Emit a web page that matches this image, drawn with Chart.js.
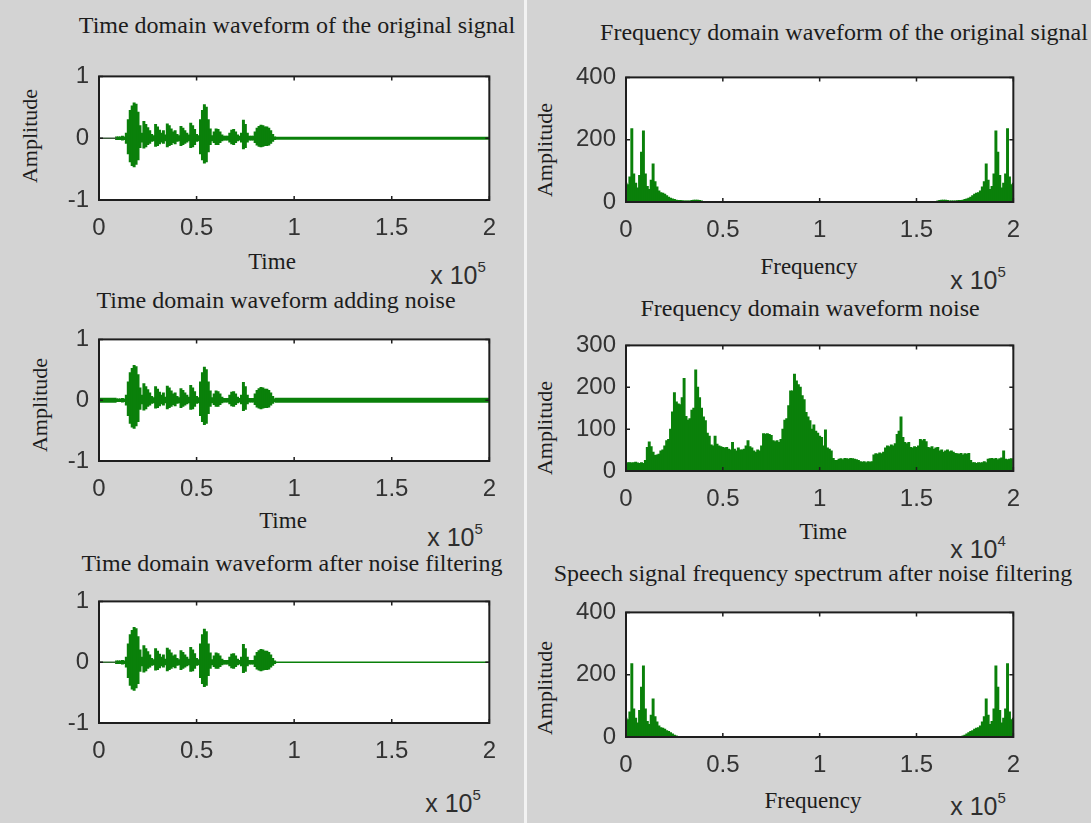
<!DOCTYPE html>
<html>
<head>
<meta charset="utf-8">
<title>Speech signal denoising</title>
<script src="https://cdn.jsdelivr.net/npm/chart.js@4.4.0/dist/chart.umd.min.js"></script>
<style>
  body { margin: 0; background: #d3d3d3; }
  #page { position: relative; width: 1091px; height: 823px; overflow: hidden; background: #d3d3d3; }
  #page canvas { position: absolute; }
  .divider { position: absolute; left: 524px; top: 0; width: 3px; height: 823px; background: #f2f2f2; }
  .lbl { position: absolute; transform: translate(-50%, -50%); white-space: nowrap;
         font-family: "Liberation Serif", "Times New Roman", serif; color: #1c1c1c; }
  .title { font-size: 24px; }
  .axis { font-size: 23px; }
  .vert { font-size: 22px; transform: translate(-50%, -50%) rotate(-90deg); }
  .exp { font-family: "Liberation Sans", Arial, sans-serif; font-size: 25px; color: #2e2e2e; }
  .exp span { position: relative; top: -12px; font-size: 15px; }
</style>
</head>
<body>
<div id="page">
  <div class="divider"></div>

  <div class="lbl title" style="left:297px; top:25px">Time domain waveform of the original signal</div>
  <div class="lbl title" style="left:844px; top:32px">Frequency domain waveform of the original signal</div>
  <div class="lbl title" style="left:276px; top:300px">Time domain waveform adding noise</div>
  <div class="lbl title" style="left:810px; top:308px">Frequency domain waveform noise</div>
  <div class="lbl title" style="left:292px; top:563px">Time domain waveform after noise filtering</div>
  <div class="lbl title" style="left:813px; top:573px">Speech signal frequency spectrum after noise filtering</div>

  <div class="lbl vert" style="left:30px; top:136px">Amplitude</div>
  <div class="lbl vert" style="left:40px; top:405px">Amplitude</div>
  <div class="lbl vert" style="left:545px; top:150px">Amplitude</div>
  <div class="lbl vert" style="left:545px; top:428px">Amplitude</div>
  <div class="lbl vert" style="left:545px; top:688px">Amplitude</div>

  <div class="lbl axis" style="left:272px; top:262px">Time</div>
  <div class="lbl axis" style="left:283px; top:521px">Time</div>
  <div class="lbl axis" style="left:809px; top:267px">Frequency</div>
  <div class="lbl axis" style="left:823px; top:532px">Time</div>
  <div class="lbl axis" style="left:813px; top:801px">Frequency</div>

  <div class="lbl exp" style="left:458px; top:275px">x 10<span>5</span></div>
  <div class="lbl exp" style="left:455px; top:537px">x 10<span>5</span></div>
  <div class="lbl exp" style="left:453px; top:803px">x 10<span>5</span></div>
  <div class="lbl exp" style="left:978px; top:280px">x 10<span>5</span></div>
  <div class="lbl exp" style="left:978px; top:549px">x 10<span>4</span></div>
  <div class="lbl exp" style="left:978px; top:806px">x 10<span>5</span></div>
</div>

<script>
// tick values
const xTicks = [0, 0.5, 1, 1.5, 2];
const waveTicks = [-1, 0, 1];
const specTicks = [0, 200, 400];
const noiseTicks = [0, 100, 200, 300];

// speech waveform envelope (time in units of 1e5), one sample every 0.01 from 0.09
const waveStart = 0.09;
const waveStep = 0.01;
const waveUpper = [
  0.02, 0.02, 0.02, 0.03, 0.02, 0.08, 0.30, 0.45, 0.52, 0.57,
  0.55, 0.42, 0.20, 0.08, 0.27, 0.22, 0.17, 0.12, 0.06, 0.04,
  0.22, 0.18, 0.13, 0.08, 0.12, 0.05, 0.23, 0.20, 0.15, 0.10,
  0.12, 0.06, 0.04, 0.19, 0.16, 0.12, 0.08, 0.05, 0.24, 0.20,
  0.14, 0.06, 0.04, 0.30, 0.45, 0.54, 0.50, 0.30, 0.15, 0.04,
  0.10, 0.15, 0.14, 0.10, 0.05, 0.03, 0.03, 0.03, 0.08, 0.13,
  0.14, 0.10, 0.05, 0.03, 0.08, 0.29, 0.22, 0.08, 0.03, 0.03,
  0.03, 0.10, 0.16, 0.19, 0.21, 0.20, 0.18, 0.18, 0.16, 0.12,
  0.06, 0.02
];
const waveLower = [
  -0.02, -0.02, -0.02, -0.03, -0.02, -0.08, -0.25, -0.38, -0.44, -0.46,
  -0.42, -0.35, -0.15, -0.06, -0.16, -0.14, -0.10, -0.08, -0.05, -0.04,
  -0.13, -0.12, -0.09, -0.06, -0.08, -0.04, -0.14, -0.12, -0.10, -0.07,
  -0.09, -0.05, -0.04, -0.12, -0.10, -0.08, -0.06, -0.04, -0.15, -0.14,
  -0.10, -0.05, -0.04, -0.25, -0.35, -0.40, -0.38, -0.22, -0.10, -0.04,
  -0.07, -0.10, -0.10, -0.07, -0.04, -0.03, -0.03, -0.03, -0.06, -0.09,
  -0.10, -0.07, -0.04, -0.03, -0.06, -0.17, -0.15, -0.06, -0.03, -0.03,
  -0.03, -0.07, -0.11, -0.13, -0.14, -0.13, -0.12, -0.12, -0.11, -0.08,
  -0.05, -0.02
];

// spectra (frequency in units of 1e5), one bin every 0.01
const specStep = 0.01;
const origLeftStart = 0;
const origLeft = [
  60, 55, 80, 235, 90, 60, 45, 85, 160, 228,
  90, 50, 40, 70, 122, 65, 48, 35, 30, 28,
  25, 20, 15, 12, 10, 8, 6, 5, 5, 4,
  3, 3, 3, 3, 5, 6, 6, 6, 5, 3,
  2
];
const origRightStart = 1.6;
const origRight = [
  2, 3, 5, 6, 6, 6, 5, 3, 3, 3,
  3, 4, 5, 5, 6, 8, 10, 12, 15, 20,
  25, 28, 30, 35, 48, 65, 122, 70, 40, 50,
  90, 228, 160, 85, 45, 60, 90, 235, 80, 55,
  60
];
const filtLeftStart = 0;
const filtLeft = [
  60, 55, 80, 235, 90, 60, 45, 85, 160, 228,
  90, 50, 40, 70, 122, 65, 48, 35, 30, 28,
  25, 20, 18, 14, 10, 6, 3, 0, 0, 0,
  0
];
const filtRightStart = 1.7;
const filtRight = [
  0, 0, 0, 0, 3, 6, 10, 14, 18, 20,
  25, 28, 30, 35, 48, 65, 122, 70, 40, 50,
  90, 228, 160, 85, 45, 60, 90, 235, 80, 55,
  60
];

// noise spectrum (x in units of 1e4), one bin every 0.01 from 0
const noiseStart = 0;
const noiseAmp = [
  18, 20, 20, 19, 20, 21, 19, 18, 20, 18,
  25, 56, 69, 58, 45, 37, 38, 40, 48, 50,
  60, 72, 75, 100, 141, 187, 165, 160, 158, 175,
  221, 130, 121, 125, 145, 150, 241, 200, 175, 150,
  129, 120, 90, 83, 62, 60, 83, 64, 60, 58,
  56, 55, 56, 52, 50, 68, 52, 48, 55, 50,
  50, 52, 60, 72, 58, 55, 48, 45, 50, 48,
  60, 89, 88, 89, 87, 85, 72, 70, 72, 68,
  75, 100, 121, 125, 156, 191, 191, 231, 215, 206,
  200, 180, 170, 140, 129, 120, 100, 110, 95, 90,
  83, 80, 60, 98, 55, 52, 48, 30, 25, 25,
  28, 29, 27, 30, 29, 28, 30, 29, 28, 27,
  25, 22, 21, 22, 20, 22, 21, 22, 38, 41,
  40, 43, 41, 45, 55, 60, 58, 62, 60, 65,
  87, 95, 129, 80, 68, 65, 68, 56, 55, 58,
  56, 60, 75, 72, 75, 70, 56, 55, 58, 52,
  55, 56, 48, 50, 45, 48, 50, 46, 48, 45,
  42, 41, 40, 42, 38, 41, 40, 42, 25, 20,
  20, 18, 20, 19, 20, 22, 20, 28, 29, 30,
  28, 30, 27, 29, 31, 48, 28, 27, 28, 29
];

const GREEN = '#0a800a';
const Y_AXIS_W = 60;
const X_AXIS_H = 45;
const PAD = 20;
const tickFont = { family: '"Liberation Sans", Arial, sans-serif', size: 24 };

// white plot area + matlab style box with inner ticks
const matlabBox = {
  id: 'matlabBox',
  beforeDraw(chart) {
    const a = chart.chartArea;
    chart.ctx.save();
    chart.ctx.fillStyle = '#ffffff';
    chart.ctx.fillRect(a.left, a.top, a.right - a.left, a.bottom - a.top);
    chart.ctx.restore();
  },
  afterDraw(chart) {
    const { ctx, chartArea: a, scales } = chart;
    ctx.save();
    ctx.strokeStyle = '#1e1e1e';
    ctx.lineWidth = 2;
    ctx.strokeRect(a.left, a.top, a.right - a.left, a.bottom - a.top);
    ctx.lineWidth = 1.5;
    ctx.beginPath();
    scales.x.ticks.forEach(t => {
      const px = scales.x.getPixelForValue(t.value);
      ctx.moveTo(px, a.bottom); ctx.lineTo(px, a.bottom - 4);
      ctx.moveTo(px, a.top); ctx.lineTo(px, a.top + 4);
    });
    scales.y.ticks.forEach(t => {
      const py = scales.y.getPixelForValue(t.value);
      ctx.moveTo(a.left, py); ctx.lineTo(a.left + 4, py);
      ctx.moveTo(a.right, py); ctx.lineTo(a.right - 4, py);
    });
    ctx.stroke();
    ctx.restore();
  }
};

function axis(ticks, horizontal) {
  return {
    type: 'linear',
    min: ticks[0],
    max: ticks[ticks.length - 1],
    offset: false,
    afterBuildTicks: s => { s.ticks = ticks.map(v => ({ value: v })); },
    afterFit: s => { if (horizontal) s.height = X_AXIS_H; else s.width = Y_AXIS_W; },
    grid: { display: false, drawTicks: false },
    border: { display: false },
    ticks: {
      font: tickFont, color: '#333333', padding: horizontal ? 14 : 10,
      autoSkip: false, maxRotation: 0, callback: v => String(v)
    }
  };
}

function placeCanvas(box) {
  const [l, t, r, b] = box;
  const c = document.createElement('canvas');
  c.width = (r - l) + Y_AXIS_W + PAD;
  c.height = (b - t) + PAD + X_AXIS_H;
  c.style.left = (l - Y_AXIS_W) + 'px';
  c.style.top = (t - PAD) + 'px';
  document.getElementById('page').appendChild(c);
  return c;
}

function draw(box, datasets, yTicks) {
  new Chart(placeCanvas(box), {
    type: 'bar',
    data: { datasets },
    options: {
      responsive: false,
      animation: false,
      events: [],
      layout: { padding: { top: PAD, right: PAD, left: 0, bottom: 0 } },
      plugins: { legend: { display: false }, tooltip: { enabled: false } },
      scales: { x: axis(xTicks, true), y: axis(yTicks, false) }
    },
    plugins: [matlabBox]
  });
}

function bins(values, start, step) {
  return values.map((v, i) => ({ x: +(start + i * step).toFixed(3), y: v }));
}

const barStyle = { backgroundColor: GREEN, borderWidth: 0, inflateAmount: 0.5,
                   barPercentage: 1, categoryPercentage: 1 };

function waveDatasets(headWidth, tailWidth, headColor) {
  const envelope = bins(waveUpper.map((u, i) => [waveLower[i], u]), waveStart, waveStep);
  const waveEnd = envelope[envelope.length - 1].x;
  return [
    { type: 'line', data: [{ x: 0, y: 0 }, { x: waveStart, y: 0 }],
      borderColor: headColor, borderWidth: headWidth, pointRadius: 0 },
    { type: 'line', data: [{ x: waveEnd, y: 0 }, { x: 2, y: 0 }],
      borderColor: GREEN, borderWidth: tailWidth, pointRadius: 0 },
    Object.assign({ type: 'bar', data: envelope }, barStyle)
  ];
}

function specDataset(points) {
  return [Object.assign({ type: 'bar', data: points }, barStyle)];
}

// left column: time domain
draw([99, 72, 490, 200], waveDatasets(1.5, 3, '#3c5a3c'), waveTicks);
draw([99, 335, 490, 461], waveDatasets(5, 5, GREEN), waveTicks);
draw([99, 597, 490, 723], waveDatasets(1.5, 1.5, '#2f6a2f'), waveTicks);

// right column: spectra
draw([626, 73, 1014, 202],
  specDataset(bins(origLeft, origLeftStart, specStep).concat(bins(origRight, origRightStart, specStep))),
  specTicks);
draw([626, 341, 1014, 471], specDataset(bins(noiseAmp, noiseStart, specStep)), noiseTicks);
draw([626, 608, 1014, 737],
  specDataset(bins(filtLeft, filtLeftStart, specStep).concat(bins(filtRight, filtRightStart, specStep))),
  specTicks);
</script>
</body>
</html>
